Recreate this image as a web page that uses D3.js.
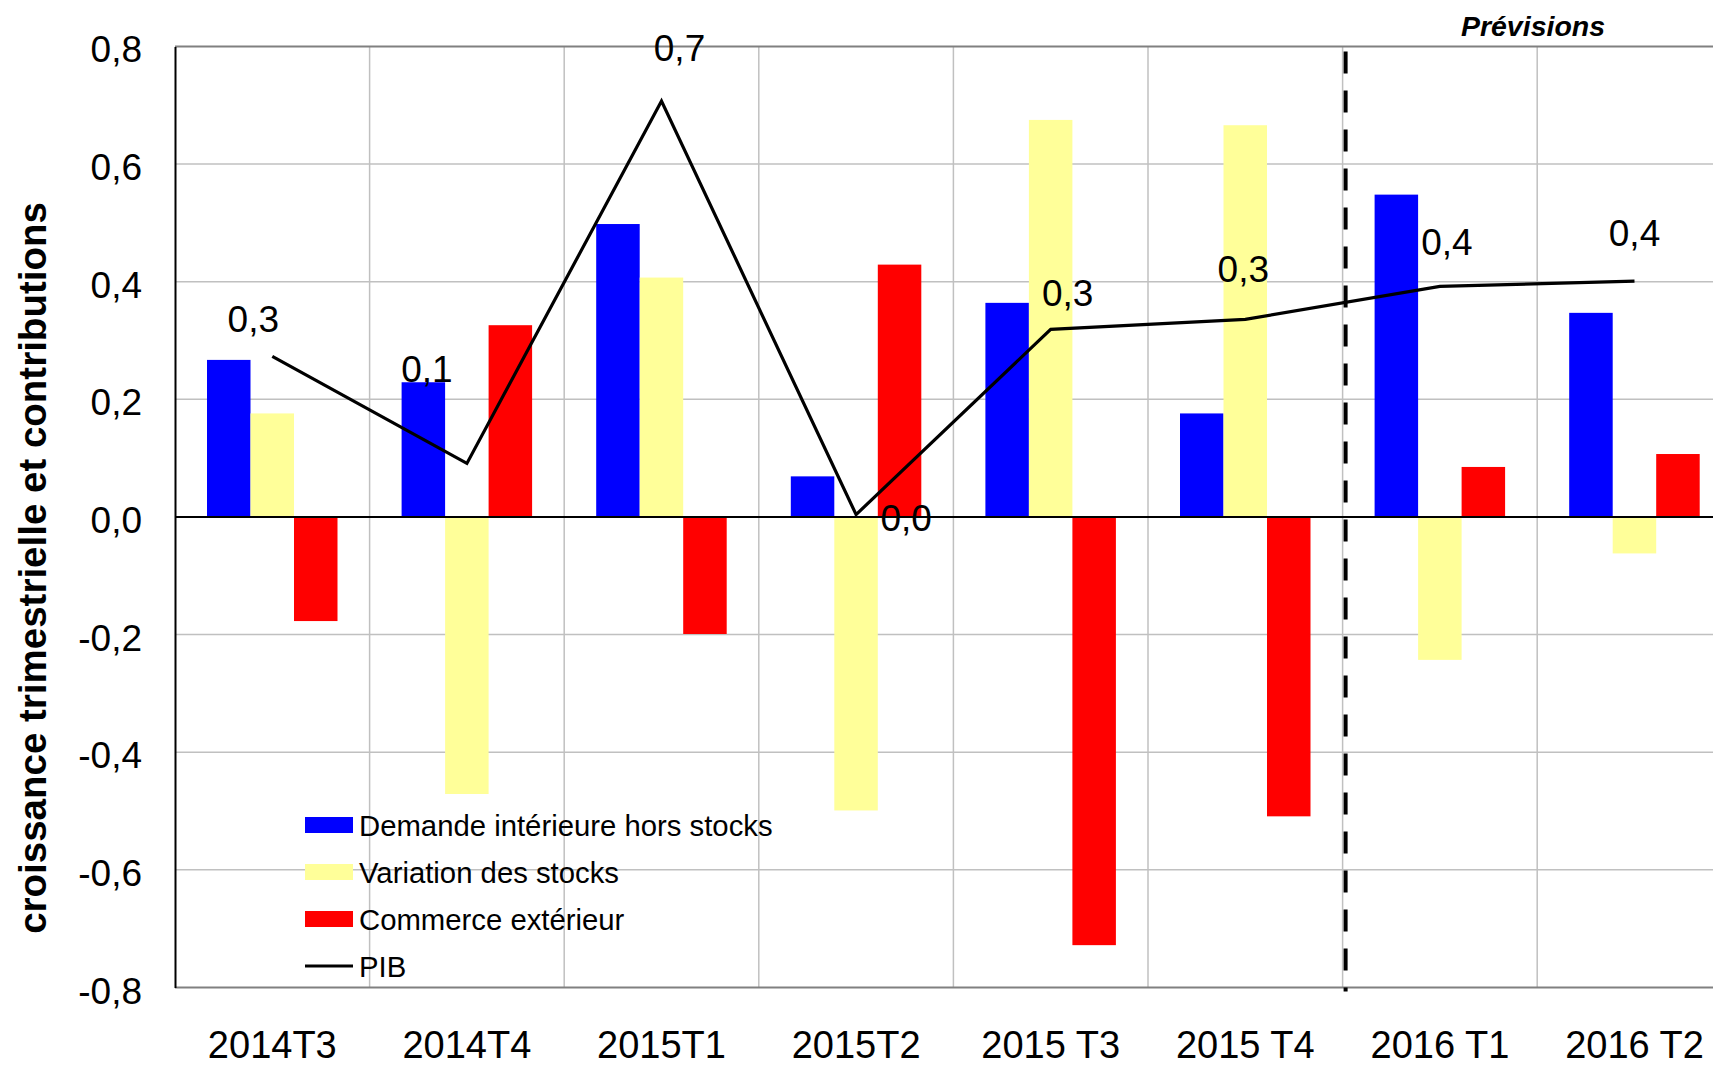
<!DOCTYPE html>
<meta charset="utf-8">
<style>
body { margin: 0; background: #fff; }
svg { display: block; font-family: "Liberation Sans", Arial, sans-serif; }
.grid line { stroke: #c0c0c0; stroke-width: 1.5; }
.tick text { fill: #000; }
</style>
<body>
<script src="https://cdn.jsdelivr.net/npm/d3@7"></script>
<script>
// chart data
var categories = ["2014T3", "2014T4", "2015T1", "2015T2", "2015 T3", "2015 T4", "2016 T1", "2016 T2"];
var seriesNames = ["Demande intérieure hors stocks", "Variation des stocks", "Commerce extérieur"];
var demande = [0.267, 0.229, 0.498, 0.069, 0.364, 0.176, 0.548, 0.347];
var stocks = [0.176, -0.471, 0.407, -0.499, 0.675, 0.666, -0.243, -0.062];
var commerce = [-0.177, 0.326, -0.199, 0.429, -0.728, -0.509, 0.085, 0.107];
var pib = [0.273, 0.091, 0.707, 0.004, 0.319, 0.336, 0.392, 0.401];
var yTicks = [-0.8, -0.6, -0.4, -0.2, 0, 0.2, 0.4, 0.6, 0.8];
var forecastStart = "2016 T1";

// layout / style
var colors = ["#0000ff", "#ffff99", "#ff0000"];
// hand placed label offsets (like the original)
var labelOffsets = [[-19, -24], [-40, -81], [18, -40], [50, 16], [17, -23], [-2, -37], [7, -31], [0, -35]];

var W = 1713, H = 1065;
var plotLeft = 175, plotTop = 46.4, plotBottom = 987.5, band = 194.6;

var svg = d3.select("body").append("svg")
    .attr("width", W)
    .attr("height", H);

var x = d3.scaleBand()
    .domain(categories)
    .range([plotLeft, plotLeft + band * categories.length])
    .padding(0);

var x1 = d3.scaleBand()
    .domain(seriesNames)
    .range([32, 32 + 130.5])
    .padding(0);

var y = d3.scaleLinear()
    .domain([-0.8, 0.8])
    .range([plotBottom, plotTop]);

var fmt = function(v) { return d3.format(".1f")(v).replace(".", ",").replace("−", "-"); };
var fmtLabel = function(v) { return d3.format(".1f")(Math.abs(v) < 0.05 ? 0 : v).replace(".", ","); };

// horizontal gridlines
svg.append("g").attr("class", "grid")
  .selectAll("line")
  .data(yTicks.filter(function(d) { return d !== 0 && d !== -0.8 && d !== 0.8; }))
  .enter().append("line")
    .attr("x1", plotLeft).attr("x2", x.range()[1])
    .attr("y1", function(d) { return y(d); })
    .attr("y2", function(d) { return y(d); });

// vertical gridlines at category boundaries
svg.append("g").attr("class", "grid")
  .selectAll("line")
  .data(categories.slice(1))
  .enter().append("line")
    .attr("x1", function(d) { return x(d); })
    .attr("x2", function(d) { return x(d); })
    .attr("y1", plotTop).attr("y2", plotBottom);

// top and bottom frame lines
svg.append("line")
    .attr("x1", plotLeft).attr("x2", x.range()[1])
    .attr("y1", y(0.8)).attr("y2", y(0.8))
    .attr("stroke", "#808080").attr("stroke-width", 2);
svg.append("line")
    .attr("x1", plotLeft).attr("x2", x.range()[1])
    .attr("y1", y(-0.8)).attr("y2", y(-0.8))
    .attr("stroke", "#808080").attr("stroke-width", 2);

// bars
var rows = categories.map(function(c, i) {
  return { cat: c, values: [demande[i], stocks[i], commerce[i]] };
});

var groups = svg.selectAll(".grp")
    .data(rows)
  .enter().append("g")
    .attr("class", "grp")
    .attr("transform", function(d) { return "translate(" + x(d.cat) + ",0)"; });

groups.selectAll("rect")
    .data(function(d) { return d.values.map(function(v, k) { return { name: seriesNames[k], v: v, k: k }; }); })
  .enter().append("rect")
    .attr("x", function(d) { return x1(d.name); })
    .attr("width", x1.bandwidth())
    .attr("y", function(d) { return y(Math.max(0, d.v)); })
    .attr("height", function(d) { return Math.abs(y(d.v) - y(0)); })
    .attr("fill", function(d) { return colors[d.k]; });

// zero line
svg.append("line")
    .attr("x1", plotLeft).attr("x2", x.range()[1])
    .attr("y1", y(0)).attr("y2", y(0))
    .attr("stroke", "#000").attr("stroke-width", 2);

// y axis
var yAxis = svg.append("g")
    .attr("transform", "translate(" + plotLeft + ",0)")
    .call(d3.axisLeft(y).tickValues(yTicks).tickSize(0).tickPadding(33).tickFormat(fmt));
yAxis.select(".domain").attr("stroke", "#000").attr("stroke-width", 2);
yAxis.selectAll("text")
    .attr("font-size", 37)
    .attr("font-family", "Liberation Sans, Arial, sans-serif")
    .attr("dy", "0.42em");

// x axis labels
var xAxis = svg.append("g")
    .attr("transform", "translate(0," + plotBottom + ")")
    .call(d3.axisBottom(x).tickSize(0).tickPadding(44));
xAxis.select(".domain").remove();
xAxis.selectAll("text")
    .attr("font-size", 38)
    .attr("font-family", "Liberation Sans, Arial, sans-serif");

// forecast separator
var xf = x(forecastStart) + 3;
svg.append("line")
    .attr("x1", xf).attr("x2", xf)
    .attr("y1", plotTop + 5).attr("y2", plotBottom + 4)
    .attr("stroke", "#000").attr("stroke-width", 4)
    .attr("stroke-dasharray", "22 17");

svg.append("text")
    .attr("x", 1533).attr("y", 36)
    .attr("text-anchor", "middle")
    .attr("font-size", 28.5)
    .attr("font-weight", "bold")
    .attr("font-style", "italic")
    .text("Prévisions");

// PIB line
var line = d3.line()
    .x(function(d, i) { return x(categories[i]) + x.bandwidth() / 2; })
    .y(function(d) { return y(d); });

svg.append("path")
    .datum(pib)
    .attr("d", line)
    .attr("fill", "none")
    .attr("stroke", "#000")
    .attr("stroke-width", 3.2);

svg.selectAll(".lbl")
    .data(pib)
  .enter().append("text")
    .attr("class", "lbl")
    .attr("x", function(d, i) { return x(categories[i]) + x.bandwidth() / 2 + labelOffsets[i][0]; })
    .attr("y", function(d, i) { return y(d) + labelOffsets[i][1]; })
    .attr("text-anchor", "middle")
    .attr("font-size", 37)
    .text(fmtLabel);

// y axis title
svg.append("text")
    .attr("transform", "translate(46,568) rotate(-90)")
    .attr("text-anchor", "middle")
    .attr("font-size", 38.5)
    .attr("font-weight", "bold")
    .text("croissance trimestrielle et contributions");

// legend
var legendItems = seriesNames.concat(["PIB"]);
var legend = svg.append("g").attr("transform", "translate(305,825)");
legendItems.forEach(function(name, i) {
  var g = legend.append("g").attr("transform", "translate(0," + (i * 47) + ")");
  if (i < 3) {
    g.append("rect").attr("x", 0).attr("y", -8).attr("width", 48).attr("height", 16).attr("fill", colors[i]);
  } else {
    g.append("line").attr("x1", 0).attr("x2", 48).attr("y1", 0).attr("y2", 0)
      .attr("stroke", "#000").attr("stroke-width", 3);
  }
  g.append("text").attr("x", 54).attr("y", 10.5)
    .attr("font-size", 29.3)
    .text(name);
});
</script>
</body>
